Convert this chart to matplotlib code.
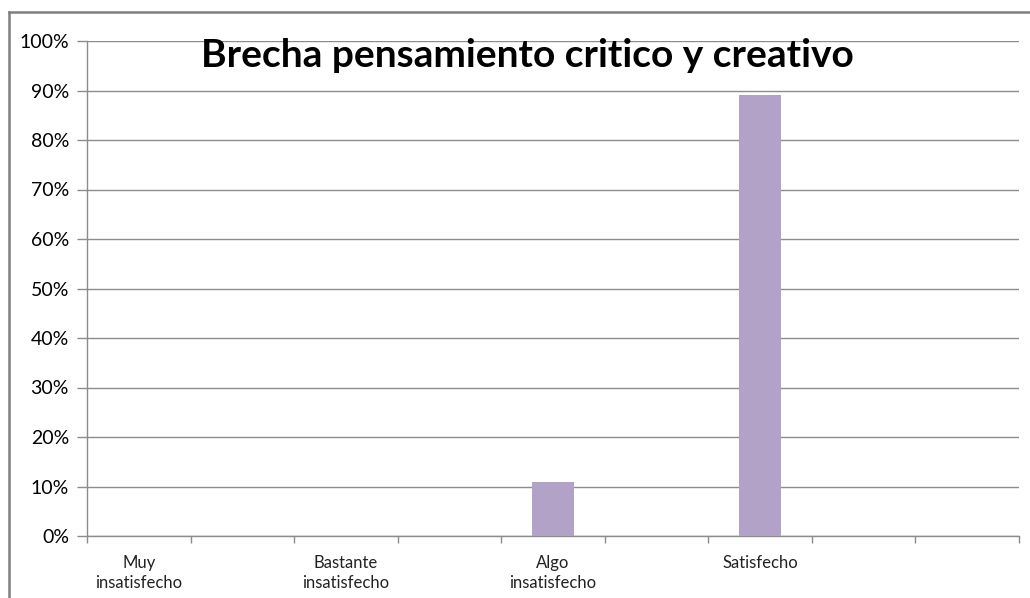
import numpy as np
import matplotlib.pyplot as plt
from matplotlib.lines import Line2D
from matplotlib.ticker import FixedLocator, PercentFormatter

# categorias (Excel muestra solo una de cada dos etiquetas)
categorias = ['Muy\ninsatisfecho', '', 'Bastante\ninsatisfecho', '', 'Algo\ninsatisfecho', '',
              'Satisfecho', '', '']
valores = [0, 0, 0, 0, 11, 0, 89, 0, 0]
titulo = 'Brecha pensamiento critico y creativo'

plt.rcParams['font.family'] = ['Lato', 'DejaVu Sans']

fig = plt.figure(figsize=(10.30, 5.98), dpi=100)
ax = fig.add_axes([87/1030, 62/598, 932/1030, 495/598])

x = np.arange(len(categorias))
ax.bar(x, valores, width=0.4, color='#B2A2C7', zorder=3)

ax.set_xlim(-0.5, len(categorias) - 0.5)
ax.set_ylim(0, 100)
ax.set_yticks(np.arange(0, 101, 10))
ax.yaxis.set_major_formatter(PercentFormatter(decimals=0))
ax.grid(axis='y', color='#8C8C8C', lw=1.0, zorder=0)

ax.set_xticks(x)
ax.set_xticklabels(categorias, fontsize=12, color='#222222', linespacing=1.25)
ax.xaxis.set_minor_locator(FixedLocator(np.arange(-0.5, len(categorias), 1)))
ax.tick_params(axis='x', which='major', length=0, pad=14)
ax.tick_params(axis='x', which='minor', length=5, color='#8C8C8C', width=1)
ax.tick_params(axis='y', length=7, color='#8C8C8C', width=1, labelsize=14, pad=6)

for s in ['top', 'right']:
    ax.spines[s].set_visible(False)
for s in ['left', 'bottom']:
    ax.spines[s].set_color('#8C8C8C')
    ax.spines[s].set_linewidth(1.0)

fig.text(527/1030, 1 - 67/598, titulo, ha='center', va='baseline',
         fontsize=28, fontweight='bold', color='black')

# borde del grafico
fig.add_artist(Line2D([9/1030, 9/1030], [0, 1 - 12/598], transform=fig.transFigure,
                      color='#7F7F7F', lw=1.8))
fig.add_artist(Line2D([9/1030, 1], [1 - 12/598, 1 - 12/598], transform=fig.transFigure,
                      color='#7F7F7F', lw=1.8))

fig.savefig('out.png', dpi=100)
